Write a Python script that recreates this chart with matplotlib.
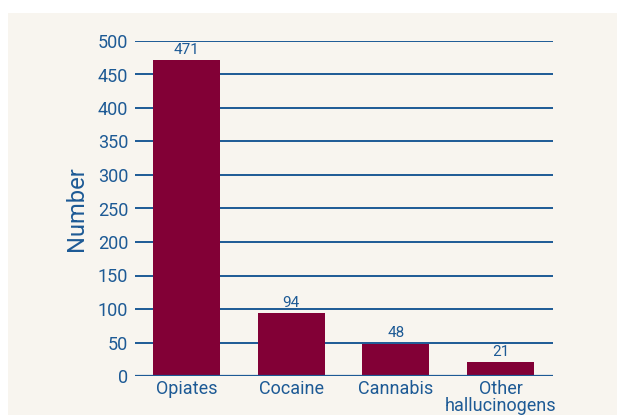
import matplotlib
matplotlib.use("Agg")
import matplotlib.pyplot as plt
from matplotlib.patches import Rectangle

# Data
categories = ["Opiates", "Cocaine", "Cannabis", "Other\nhallucinogens"]
values = [471, 94, 48, 21]
yticks = [0, 50, 100, 150, 200, 250, 300, 350, 400, 450, 500]

BAR = "#820036"
BLUE = "#1d5a95"
BG = "#f8f5ef"

plt.rcParams['font.family'] = ['Roboto', 'DejaVu Sans']

fig = plt.figure(figsize=(6.17, 4.15), dpi=100)
fig.patch.set_facecolor("white")
# beige panel behind everything
panel = Rectangle((8 / 617, 0), 1, 1 - 13 / 415, transform=fig.transFigure,
                  facecolor=BG, edgecolor="none", zorder=-10)
fig.add_artist(panel)

ax = fig.add_axes([135 / 617, 1 - 376 / 415, (553 - 135) / 617, (376 - 41) / 415])
ax.set_facecolor("none")
ax.set_zorder(1)

x = range(len(categories))
bars = ax.bar(x, values, width=0.64, color=BAR, zorder=3)
for xi, v in zip(x, values):
    ax.text(xi, v + 5, str(v), ha="center", va="bottom", color=BLUE, fontsize=11)

for t in yticks:
    ax.axhline(t, color=BLUE, lw=1.6 if t == 0 else 1.4, zorder=4 if t == 0 else 2)

ax.set_xlim(-0.49, 3.5)
ax.set_ylim(0, 500)
ax.set_yticks(yticks)
ax.set_xticks(list(x))
ax.set_xticklabels(categories, linespacing=0.95)
ax.tick_params(axis="both", length=0, colors=BLUE, labelsize=13, pad=5)
ax.tick_params(axis="x", pad=3)
for s in ax.spines.values():
    s.set_visible(False)

ax.set_ylabel("Number", color=BLUE, fontsize=17, labelpad=7)

fig.savefig("out.png", dpi=100, facecolor=fig.get_facecolor())
